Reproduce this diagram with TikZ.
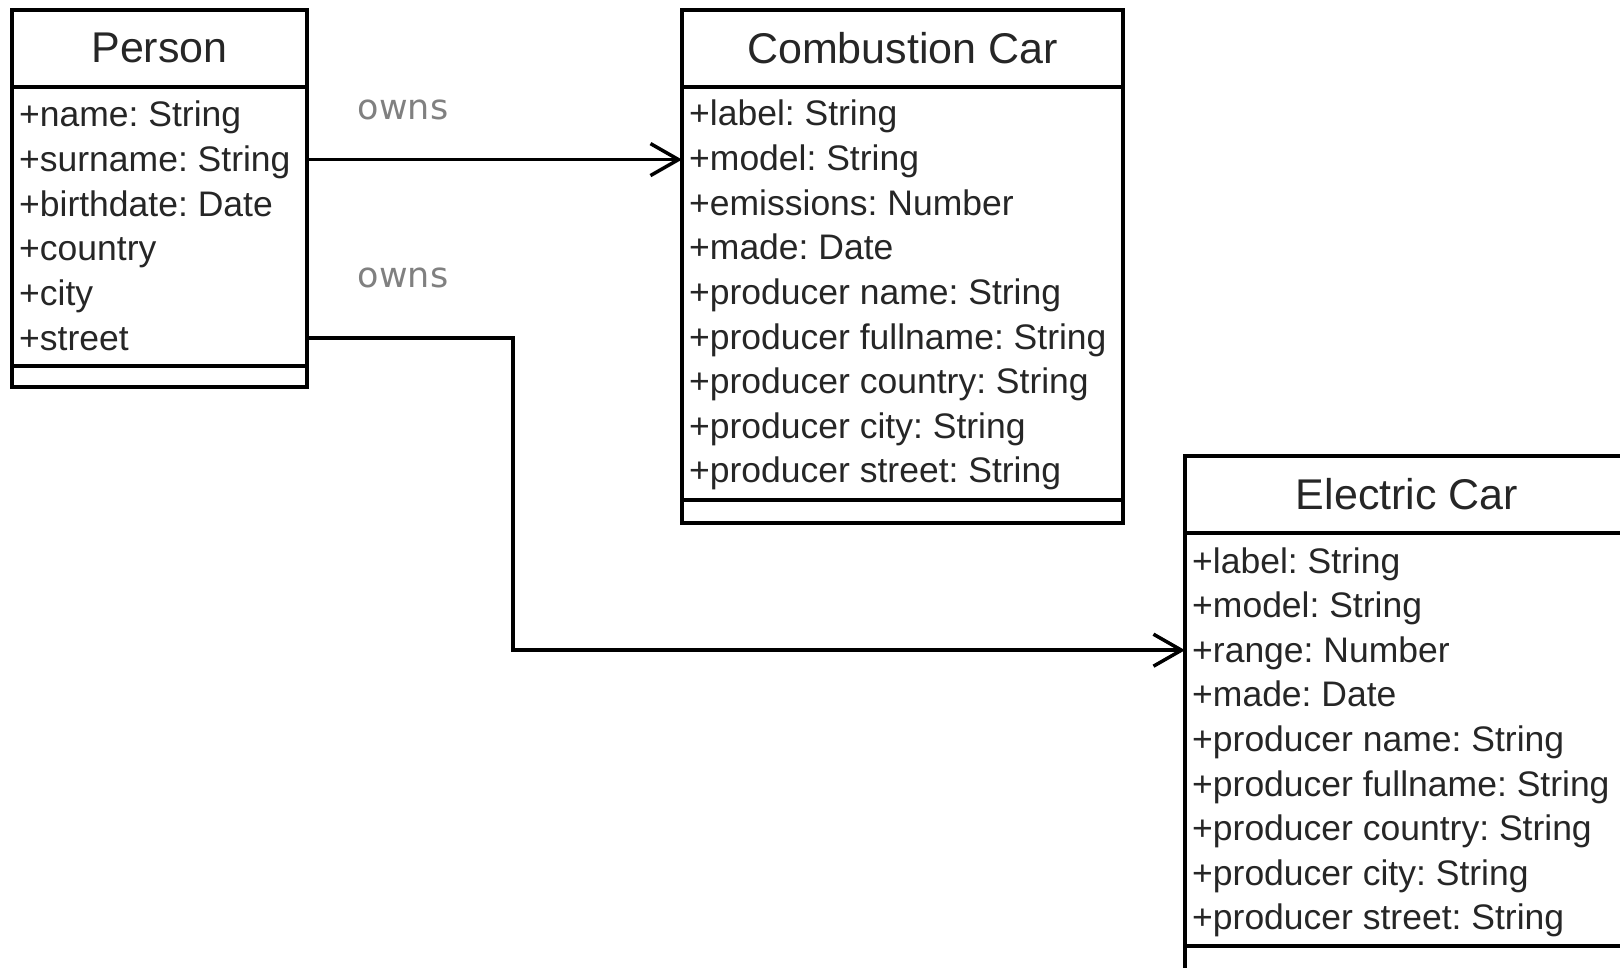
\documentclass[tikz,border=0pt]{standalone}
\usepackage{fontspec}
\setmainfont{Liberation Sans}
\newfontfamily\ownsfont{DejaVu Sans}
\usetikzlibrary{arrows.meta,positioning}
\frenchspacing

\tikzset{
  classbox/.style={draw, line width=4pt, anchor=north west, inner sep=0pt, outer sep=0pt},
  classname/.style={inner sep=0pt, font=\fontsize{43}{50}\selectfont, text=black!85},
  attr/.style={anchor=base west, inner sep=0pt, font=\fontsize{35.5}{40}\selectfont, text=black!85},
  ownslabel/.style={inner sep=0pt, font=\ownsfont\fontsize{35}{40}\selectfont, text=black!50},
  conn/.style={->, line width=3.5pt},
}

\begin{document}
\begin{tikzpicture}[>={Straight Barb[length=28pt,width=32pt]}, x=1pt, y=-1pt]
\useasboundingbox (0,0) rectangle (1620,968);

% Person
\node[classbox, minimum width=295, minimum height=377] (person) at (12,10) {};
\node[classname] (person-name) at (159.5,48) {Person};
\draw[line width=4pt] (person.west |- 0,87) -- (person.east |- 0,87);
\draw[line width=4pt] (person.west |- 0,366) -- (person.east |- 0,366);
\foreach \n/\t [count=\i from 0] in {name/+name: String, surname/+surname: String,
                                     birth/+birthdate: Date, country/+country,
                                     city/+city, street/+street} {
  \node[attr] (p-\n) at (19,127+44.6*\i) {\t};
}

% Combustion Car
\node[classbox, minimum width=441, minimum height=513] (comb) at (682,10) {};
\node[classname] (comb-name) at (902.5,48) {Combustion Car};
\draw[line width=4pt] (comb.west |- 0,87) -- (comb.east |- 0,87);
\draw[line width=4pt] (comb.west |- 0,500) -- (comb.east |- 0,500);
\foreach \n/\t [count=\i from 0] in {label/+label: String, model/+model: String,
                                     emis/+emissions: Number, made/+made: Date,
                                     pname/+producer name: String,
                                     pfull/+producer fullname: String,
                                     pcountry/+producer country: String,
                                     pcity/+producer city: String,
                                     pstreet/+producer street: String} {
  \node[attr] (c-\n) at (689,126+44.6*\i) {\t};
}

% Electric Car
\node[classbox, minimum width=444, minimum height=514] (elec) at (1185,456) {};
\node[classname] (elec-name) at (1407,494) {Electric Car};
\draw[line width=4pt] (elec.west |- 0,533) -- (elec.east |- 0,533);
\draw[line width=4pt] (elec.west |- 0,946) -- (elec.east |- 0,946);
\foreach \n/\t [count=\i from 0] in {label/+label: String, model/+model: String,
                                     range/+range: Number, made/+made: Date,
                                     pname/+producer name: String,
                                     pfull/+producer fullname: String,
                                     pcountry/+producer country: String,
                                     pcity/+producer city: String,
                                     pstreet/+producer street: String} {
  \node[attr] (e-\n) at (1192,573+44.6*\i) {\t};
}

% owns
\draw[conn] ([yshift=12pt]p-surname.base -| person.east) -- ([yshift=12pt]p-surname.base -| comb.west);
\draw[conn] ([yshift=12pt]p-street.base -| person.east) -- ++(206,0)
  |- ([yshift=12pt]e-range.base -| elec.west);
\node[ownslabel] (owns-comb) at (403,110) {owns};
\node[ownslabel] (owns-elec) at (403,278) {owns};

\end{tikzpicture}
\end{document}
